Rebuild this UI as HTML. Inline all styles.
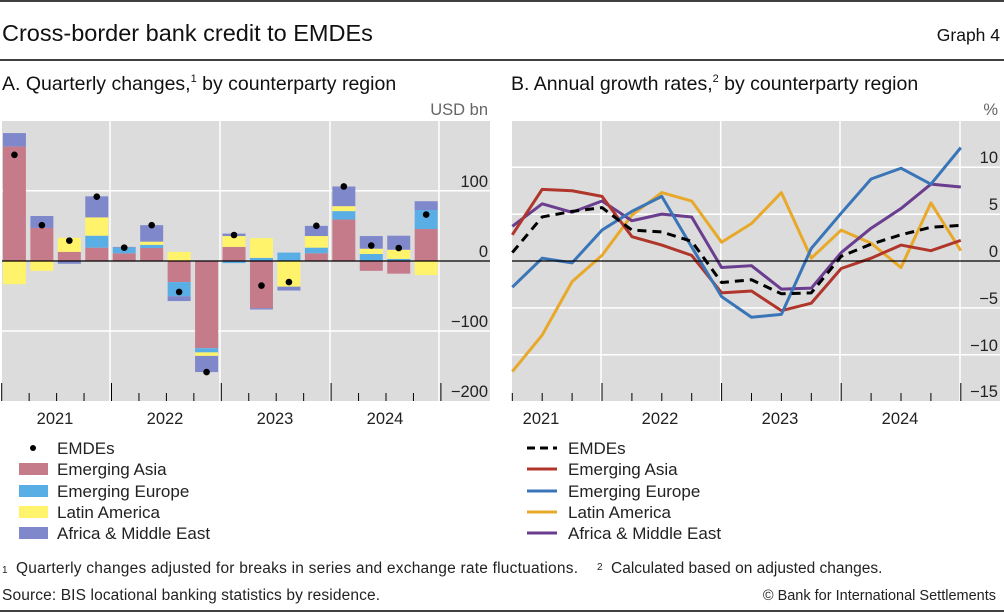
<!DOCTYPE html>
<html><head><meta charset="utf-8"><style>
html,body{margin:0;padding:0;background:#fff;}
svg{display:block;font-family:"Liberation Sans",sans-serif;}
</style></head><body>
<svg id="s" width="1004" height="613" viewBox="0 0 1004 613" xmlns="http://www.w3.org/2000/svg">
<line x1="0" y1="1" x2="1004" y2="1" stroke="#000" stroke-width="1.5"/>
<text x="2" y="41" font-size="23.5" fill="#111">Cross-border bank credit to EMDEs</text>
<text x="1000" y="41" font-size="17.5" fill="#111" text-anchor="end">Graph 4</text>
<line x1="0" y1="60" x2="1004" y2="60" stroke="#000" stroke-width="1.5"/>
<text x="2" y="90" font-size="19.5" fill="#111">A. Quarterly changes,<tspan font-size="11" dy="-8">1</tspan><tspan dy="8"> by counterparty region</tspan></text>
<text x="511" y="90" font-size="19.5" fill="#111">B. Annual growth rates,<tspan font-size="11" dy="-8">2</tspan><tspan dy="8"> by counterparty region</tspan></text>
<rect x="2" y="121" width="488" height="280" fill="#dcdcdc"/>
<rect x="512" y="121" width="488" height="280" fill="#dcdcdc"/>
<g stroke="#fff" stroke-width="1.5">
<line x1="2" y1="190.7" x2="490" y2="190.7"/><line x1="2" y1="331" x2="490" y2="331"/>
<line x1="110" y1="121" x2="110" y2="401"/><line x1="220" y1="121" x2="220" y2="401"/><line x1="330" y1="121" x2="330" y2="401"/><line x1="439" y1="121" x2="439" y2="401"/>
<line x1="512" y1="167.3" x2="1000" y2="167.3"/><line x1="512" y1="214.2" x2="1000" y2="214.2"/><line x1="512" y1="307.9" x2="1000" y2="307.9"/><line x1="512" y1="354.7" x2="1000" y2="354.7"/>
<line x1="601" y1="121" x2="601" y2="401"/><line x1="720.7" y1="121" x2="720.7" y2="401"/><line x1="840" y1="121" x2="840" y2="401"/><line x1="960" y1="121" x2="960" y2="401"/>
</g>
<g id="bars"></g>
<g id="lines"></g>
<line x1="2" y1="261" x2="490" y2="261" stroke="#000" stroke-width="1.2"/>
<line x1="512" y1="261" x2="1000" y2="261" stroke="#000" stroke-width="1.2"/>
<g id="ticks" stroke="#000" stroke-width="1"></g>
<g font-size="16.5" fill="#222" text-anchor="end">
<text x="488" y="115" fill="#666">USD bn</text>
<text x="488" y="187">100</text><text x="488" y="257">0</text><text x="488" y="327">−100</text><text x="488" y="397">−200</text>
<text x="998" y="115" fill="#666">%</text>
<text x="998" y="163">10</text><text x="998" y="210">5</text><text x="998" y="257">0</text><text x="998" y="304">−5</text><text x="998" y="351">−10</text><text x="998" y="397">−15</text>
</g>
<g font-size="16.5" fill="#222" text-anchor="middle">
<text x="55" y="424">2021</text><text x="165" y="424">2022</text><text x="275" y="424">2023</text><text x="385" y="424">2024</text>
<text x="541" y="424">2021</text><text x="660" y="424">2022</text><text x="780" y="424">2023</text><text x="900" y="424">2024</text>
</g>
<g font-size="17" fill="#222">
<circle cx="33" cy="448" r="3" fill="#000"/><text x="57" y="454">EMDEs</text>
<rect x="19" y="463" width="29" height="12" fill="#c67b8b"/><text x="57" y="475">Emerging Asia</text>
<rect x="19" y="485" width="29" height="12" fill="#5aaee6"/><text x="57" y="497">Emerging Europe</text>
<rect x="19" y="506" width="29" height="12" fill="#fff36b"/><text x="57" y="518">Latin America</text>
<rect x="19" y="527" width="29" height="12" fill="#8088cc"/><text x="57" y="539">Africa &amp; Middle East</text>
<line x1="527" y1="448" x2="557" y2="448" stroke="#000" stroke-width="3" stroke-dasharray="8,5"/><text x="568" y="454">EMDEs</text>
<line x1="527" y1="469" x2="557" y2="469" stroke="#b0362c" stroke-width="3"/><text x="568" y="475">Emerging Asia</text>
<line x1="527" y1="491" x2="557" y2="491" stroke="#3a75b8" stroke-width="3"/><text x="568" y="497">Emerging Europe</text>
<line x1="527" y1="512" x2="557" y2="512" stroke="#e8a92a" stroke-width="3"/><text x="568" y="518">Latin America</text>
<line x1="527" y1="533" x2="557" y2="533" stroke="#6a3d8f" stroke-width="3"/><text x="568" y="539">Africa &amp; Middle East</text>
</g>
<g font-size="15.5" fill="#222">
<text x="2" y="573" font-size="10">1</text>
<text x="16" y="573" textLength="562">Quarterly changes adjusted for breaks in series and exchange rate fluctuations.</text>
<text x="597" y="570" font-size="10">2</text>
<text x="611" y="573">Calculated based on adjusted changes.</text>
<text x="2" y="600" textLength="378">Source: BIS locational banking statistics by residence.</text>
<text x="996" y="600" text-anchor="end" font-size="14.5">© Bank for International Settlements</text>
</g>
<line x1="0" y1="611" x2="1004" y2="611" stroke="#000" stroke-width="1.5"/>
</svg>
<script>
var NS="http://www.w3.org/2000/svg";
function el(p,t,a){var e=document.createElementNS(NS,t);for(var k in a)e.setAttribute(k,a[k]);p.appendChild(e);return e;}
var cols=["#c67b8b","#5aaee6","#fff36b","#8088cc"];
var B=[[163,0,-33,19],[47,0,-14,17],[13,0,20,-4],[19,17,26,30],[11,8,0,1],[18.5,4.5,4.5,23.5],[-30,-20,13,-7],[-124,-6,-5,-23],[20,-3,15.5,3.5],[-67,4.5,28,-2],[0,12,-36.5,-5.5],[11,8,16.5,14.5],[59,12,7,28],[-14,10,7.5,18],[-18,3,13,20],[45.5,27,-20,12.5]];
var D=[151,51,29,91.5,19,51,-44,-158,37,-35,-30,50,106,22,18.5,66];
var g=document.getElementById("bars");
function yl(v){return 261-v*0.703;}
B.forEach(function(b,i){var cx=0.7+27.45*(i+0.5),p=0,n=0;
b.forEach(function(v,j){if(v==0)return;var a,c;if(v>0){a=p;p+=v;c=p;}else{a=n;n+=v;c=n;}
var y1=yl(Math.max(a,c)),y2=yl(Math.min(a,c));el(g,"rect",{x:cx-11.5,y:y1,width:23,height:y2-y1,fill:cols[j]});});
});
D.forEach(function(v,i){el(g,"circle",{cx:0.7+27.45*(i+0.5),cy:yl(v),r:3.3,fill:"#000"});});
var L=document.getElementById("lines");
function yr(v){return 261-v*9.37;}
var S=[
["#e8a92a",[-11.8,-7.9,-2.2,0.6,4.9,7.3,6.4,2.0,4.0,7.3,0.3,3.3,1.9,-0.7,6.2,1.1]],
["#6a3d8f",[3.7,6.1,5.2,6.4,4.3,5.0,4.7,-0.7,-0.5,-3.0,-2.9,0.9,3.5,5.6,8.2,7.9]],
["#b0362c",[2.8,7.65,7.5,6.9,2.6,1.7,0.6,-3.4,-3.2,-5.3,-4.5,-0.8,0.3,1.7,1.1,2.2]],
["#3a75b8",[-2.8,0.3,-0.2,3.3,5.3,6.9,1.5,-3.8,-6.0,-5.7,1.35,5.1,8.75,9.9,8.2,12.1]],
["#000",[0.9,4.7,5.3,5.7,3.3,3.1,2.1,-2.3,-2.0,-3.5,-3.4,0.5,1.8,2.8,3.6,3.8],1]];
S.forEach(function(s){var pts=s[1].map(function(v,i){return (512.3+29.9*i)+","+yr(v);}).join(" ");
var a={points:pts,fill:"none",stroke:s[0],"stroke-width":3,"stroke-linejoin":"round"};if(s[2])a["stroke-dasharray"]="9,6";el(L,"polyline",a);});
var T=document.getElementById("ticks");
for(var k=0;k<=16;k++){var x=0.7+27.45*k+1;if(k%4==0)el(T,"line",{x1:x,y1:383,x2:x,y2:401});else el(T,"line",{x1:x,y1:393,x2:x,y2:401});}
for(var i=0;i<16;i++){var x=512.3+29.9*i;if(i%4==3)el(T,"line",{x1:x,y1:383,x2:x,y2:401});else el(T,"line",{x1:x,y1:393,x2:x,y2:401});}
</script>
</body></html>
